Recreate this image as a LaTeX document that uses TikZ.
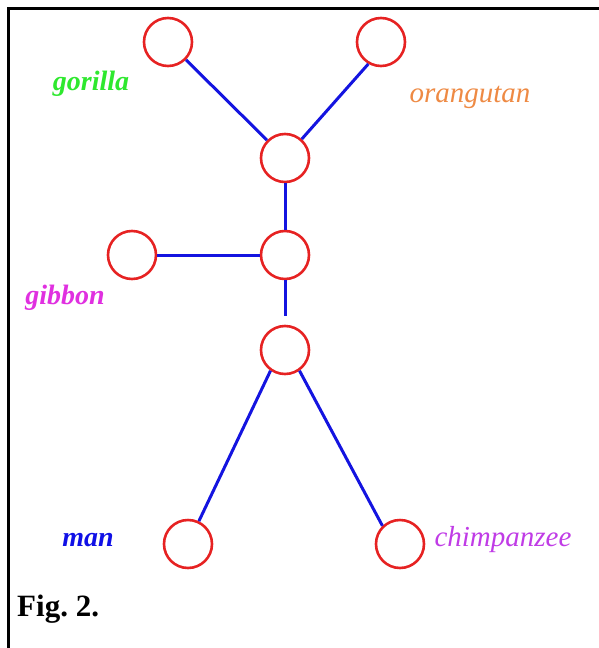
\documentclass[tikz,border=0pt]{standalone}
\usepackage{fontspec}
\setmainfont{Liberation Serif}
\definecolor{ringred}{HTML}{E62222}
\definecolor{edgeblue}{HTML}{1414E0}
\definecolor{gorgreen}{HTML}{2EE82E}
\definecolor{oraorange}{HTML}{EE8A44}
\definecolor{gibpink}{HTML}{E030E0}
\definecolor{manblue}{HTML}{1010E6}
\definecolor{chipurple}{HTML}{C03CE6}

\begin{document}
\begin{tikzpicture}[
    x=1pt, y=-1pt,
    ring/.style={circle, draw=ringred, line width=2.6pt, minimum size=48pt, inner sep=0pt},
    link/.style={edgeblue, line width=3pt},
    species/.style={font=\fontsize{28}{30}\selectfont\itshape\bfseries, inner sep=0pt},
    thin species/.style={font=\fontsize{29}{31}\selectfont\itshape, inner sep=0pt},
]
\useasboundingbox (0,0) rectangle (599,648);

% ================================================ frame
\draw[black, line width=3pt] (8.5,648) -- (8.5,8) -- (599,8);

% ================================================ the tree
\node[ring] (gor) at (168, 42) {};
\node[ring] (ora) at (381, 42) {};
\node[ring] (j1)  at (285, 158) {};
\node[ring] (gib) at (132, 255) {};
\node[ring] (j2)  at (285, 255) {};
\node[ring] (j3)  at (285, 350) {};
\node[ring] (man) at (188, 544) {};
\node[ring] (chi) at (400, 544) {};

\draw[link] (gor) -- (j1);
\draw[link] (ora.240) -- (j1);
\draw[link] (j1.272) -- (j2.88);
\draw[link] (gib.east) -- (j2.west);
\draw[link, shorten >=9pt] (j2.272) -- (j3.88);
\draw[link] (j3.235) -- (man);
\draw[link] (j3.-55) -- (chi.134);

% ================================================ species
\node[species, text=gorgreen]        (lgor) at (91, 84)  {gorilla};
\node[thin species, text=oraorange]  (lora) at (470, 97) {orangutan};
\node[species, text=gibpink]         (lgib) at (65, 298) {gibbon};
\node[species, text=manblue]         (lman) at (88, 540) {man};
\node[thin species, text=chipurple]  (lchi) at (503, 540) {chimpanzee};

% ================================================ caption
\node[font=\fontsize{31}{33}\selectfont\bfseries, anchor=west, inner sep=0pt] (cap) at (17, 609) {Fig.~2.};

\end{tikzpicture}
\end{document}
